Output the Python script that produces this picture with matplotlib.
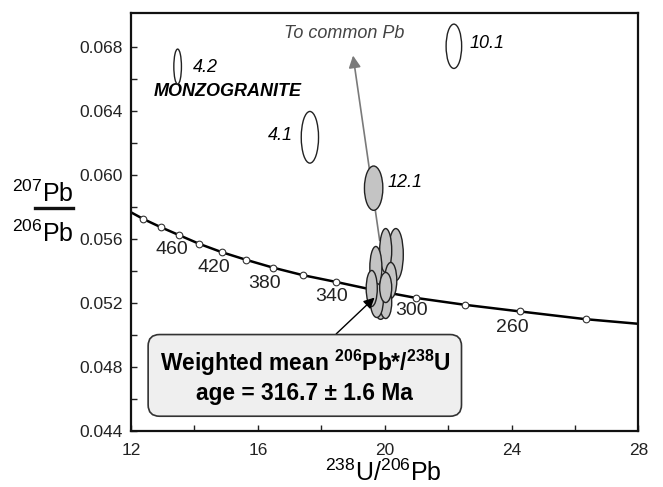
import numpy as np
import matplotlib.pyplot as plt
from matplotlib.patches import Ellipse
from matplotlib.lines import Line2D

plt.rcParams['font.family'] = ['Liberation Sans', 'DejaVu Sans']
plt.rcParams['mathtext.default'] = 'regular'

# concordia age marks (Ma)
ages = [500, 480, 460, 440, 420, 400, 380, 360, 340, 320, 300, 280, 260, 240]
conc_x = [12.39, 12.94, 13.52, 14.15, 14.86, 15.63, 16.48, 17.42, 18.46, 19.66, 20.98, 22.52, 24.28, 26.33]
conc_y = [0.05722, 0.05671, 0.05621, 0.05567, 0.05515, 0.05467, 0.05418, 0.05371, 0.05329, 0.05278,
          0.05229, 0.05186, 0.05144, 0.05096]
curve_ends_x = [12.0, 28.0]
curve_ends_y = [0.05764, 0.05067]

# labelled ages on the curve
label_ages = ['460', '420', '380', '340', '300', '260']
label_x = [13.28, 14.61, 16.22, 18.33, 20.84, 24.03]
label_y = [0.05531, 0.05421, 0.05321, 0.05238, 0.05150, 0.05046]

# open (excluded) spots
open_names = ['4.2', '4.1', '10.1']
open_x = [13.47, 17.64, 22.18]
open_y = [0.06675, 0.06233, 0.06802]
open_w = [0.24, 0.545, 0.49]
open_h = [0.00219, 0.00323, 0.00277]

# grey spots (12.1 + main cluster)
spot_x = [19.65, 20.35, 20.03, 20.19, 19.72, 19.87, 20.03, 19.75, 19.59, 20.03]
spot_y = [0.05915, 0.05500, 0.05525, 0.05338, 0.05419, 0.05175, 0.05200, 0.05213, 0.05288, 0.05294]
spot_w = [0.58, 0.47, 0.38, 0.38, 0.38, 0.38, 0.38, 0.41, 0.35, 0.38]
spot_h = [0.00277, 0.00325, 0.00275, 0.00225, 0.00263, 0.00160, 0.00200, 0.00213, 0.00225, 0.00188]

fig = plt.figure(figsize=(6.63, 4.87), dpi=100)
ax = fig.add_axes([0.1976, 0.116, 0.7654, 0.8573])

# concordia curve
cx = [curve_ends_x[0]] + conc_x + [curve_ends_x[1]]
cy = [curve_ends_y[0]] + conc_y + [curve_ends_y[1]]
ax.plot(cx, cy, color='black', lw=1.8, zorder=2)
ax.plot(conc_x, conc_y, 'o', ms=4.8, mfc='white', mec='#333333', mew=0.8, zorder=3)
for t, x, y in zip(label_ages, label_x, label_y):
    ax.text(x, y, t, fontsize=14, ha='center', va='center', color='#222222')

# common Pb arrow
ax.annotate('', xy=(19.0, 0.06744), xytext=(19.84, 0.05588),
            arrowprops=dict(arrowstyle='-|>', color='#7a7a7a', lw=1.2,
                            mutation_scale=18, shrinkA=0, shrinkB=0), zorder=1)
ax.text(18.71, 0.06881, 'To common Pb', fontsize=13, style='italic',
        ha='center', va='center', color='#444444')

for n, x, y, w, h in zip(open_names, open_x, open_y, open_w, open_h):
    ax.add_patch(Ellipse((x, y), w, h, facecolor='white', edgecolor='#222222', lw=1.0, zorder=4))

for x, y, w, h in zip(spot_x, spot_y, spot_w, spot_h):
    ax.add_patch(Ellipse((x, y), w, h, facecolor='#c4c4c4', edgecolor='#222222', lw=1.0, zorder=4))

ax.text(13.95, 0.06669, '4.2', fontsize=13, style='italic', va='center', ha='left')
ax.text(17.10, 0.06244, '4.1', fontsize=13, style='italic', va='center', ha='right')
ax.text(22.68, 0.06819, '10.1', fontsize=13, style='italic', va='center', ha='left')
ax.text(20.09, 0.05950, '12.1', fontsize=13, style='italic', va='center', ha='left')
ax.text(15.06, 0.06521, 'MONZOGRANITE', fontsize=13, style='italic', weight='bold',
        ha='center', va='center')

# weighted mean box and pointer
ax.annotate('', xy=(19.68, 0.05231), xytext=(18.47, 0.05004),
            arrowprops=dict(arrowstyle='-|>', color='black', lw=1.0,
                            mutation_scale=16, shrinkA=0, shrinkB=0), zorder=5)
ax.text(17.48, 0.04738, 'Weighted mean $^{206}$Pb*/$^{238}$U\nage = 316.7 ± 1.6 Ma',
        fontsize=16.4, weight='bold', ha='center', va='center', linespacing=1.2,
        bbox=dict(boxstyle='round,pad=0.5', facecolor='#efefef', edgecolor='#333333', lw=1.2),
        zorder=6)

ax.set_xlim(12, 28)
ax.set_ylim(0.044, 0.0701)
ax.set_xticks([12, 16, 20, 24, 28])
ax.set_xticks([14, 18, 22, 26], minor=True)
ax.set_yticks([0.044, 0.048, 0.052, 0.056, 0.060, 0.064, 0.068])
ax.set_yticks([0.046, 0.050, 0.054, 0.058, 0.062, 0.066], minor=True)
ax.set_yticklabels(['0.044', '0.048', '0.052', '0.056', '0.060', '0.064', '0.068'])
ax.tick_params(which='both', direction='in', length=4, width=1, labelsize=12.5, colors='#222222')
ax.tick_params(axis='x', pad=9)
ax.tick_params(axis='y', pad=6)
for s in ax.spines.values():
    s.set_linewidth(1.6)
    s.set_color('#111111')

# axis titles
fig.text(383 / 663, 1 - 481 / 487, '$^{238}$U/$^{206}$Pb', fontsize=18, ha='center', va='baseline')
fig.text(43 / 663, 1 - 202 / 487, '$^{207}$Pb', fontsize=18, ha='center', va='baseline')
fig.text(43 / 663, 1 - 242 / 487, '$^{206}$Pb', fontsize=18, ha='center', va='baseline')
fig.add_artist(Line2D([35 / 663, 73 / 663], [1 - 207.7 / 487] * 2, color='#111111', lw=2.4))

fig.savefig('out.png', dpi=100)
